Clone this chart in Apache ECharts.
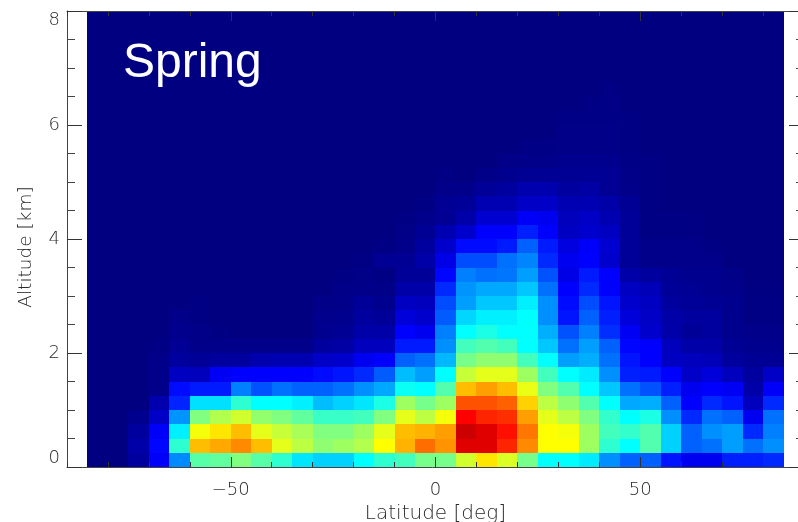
<!DOCTYPE html>
<html>
<head>
<meta charset="utf-8">
<style>html,body{margin:0;padding:0;background:#fff}#c{width:798px;height:522px}</style>
<script src="https://cdn.jsdelivr.net/npm/echarts@6/dist/echarts.min.js"></script>
</head>
<body>
<div id="c"></div>
<script>
// Latitude bin centres in degrees, -82.5 ... 82.5
const latBins = [-82.5,-77.5,-72.5,-67.5,-62.5,-57.5,-52.5,-47.5,-42.5,-37.5,-32.5,-27.5,-22.5,-17.5,-12.5,-7.5,-2.5,2.5,7.5,12.5,17.5,22.5,27.5,32.5,37.5,42.5,47.5,52.5,57.5,62.5,67.5,72.5,77.5,82.5];
// Altitude bin centres in km, 0.125 ... 7.875
const altBins = [0.125,0.375,0.625,0.875,1.125,1.375,1.625,1.875,2.125,2.375,2.625,2.875,3.125,3.375,3.625,3.875,4.125,4.375,4.625,4.875,5.125,5.375,5.625,5.875,6.125,6.375,6.625,6.875,7.125,7.375,7.625,7.875];
// One row per altitude bin (bottom to top), columns from -85 to 85 deg latitude
const r00 = [0,0,.03,.12,.26,.46,.47,.5,.46,.42,.35,.33,.33,.375,.42,.44,.49, .49,.58,.65,.59,.49,.375,.375,.355,.265,.22,.22,.145,.11,.11,.155,.155,.165];
const r01 = [0,0,.04,.13,.42,.69,.71,.74,.69,.6,.56,.515,.53,.55,.625,.7,.77, .73,.905,.905,.84,.74,.625,.625,.53,.42,.375,.455,.33,.22,.235,.28,.235,.265];
const r02 = [0,0,.03,.12,.36,.615,.65,.69,.6,.57,.54,.5,.5,.53,.6,.69,.7, .72,.925,.905,.86,.76,.625,.615,.53,.44,.425,.455,.33,.22,.265,.28,.165,.25];
const r03 = [0,0,.015,.07,.27,.5,.55,.58,.52,.5,.47,.43,.43,.44,.5,.6,.56, .615,.875,.84,.83,.72,.6,.56,.5,.425,.375,.4,.265,.165,.235,.22,.11,.235];
const r04 = [0,0,0,.045,.16,.345,.345,.42,.375,.375,.36,.31,.33,.35,.4,.53,.49, .53,.795,.795,.78,.67,.56,.515,.455,.375,.29,.295,.22,.125,.165,.145,.06,.165];
const r05 = [0,0,0,.01,.135,.15,.15,.25,.205,.235,.22,.22,.235,.265,.29,.385,.375, .455,.69,.72,.69,.605,.5,.455,.375,.32,.235,.205,.155,.11,.125,.115,.04,.12];
const r06 = [0,0,0,.01,.065,.06,.115,.125,.125,.125,.125,.135,.145,.165,.215,.31,.28, .375,.57,.6,.6,.53,.44,.375,.355,.265,.155,.15,.125,.07,.09,.06,.03,.07];
const r07 = [0,0,0,.01,.03,.025,.03,.03,.045,.05,.05,.07,.075,.11,.125,.22,.235, .305,.49,.515,.515,.44,.375,.28,.295,.235,.145,.125,.065,.06,.055,.03,.02,.02];
const r08 = [0,0,0,.005,.02,.01,.01,.01,.01,.01,.01,.03,.035,.06,.06,.15,.15, .265,.44,.455,.44,.375,.32,.235,.28,.22,.13,.125,.06,.04,.04,.02,.015,.015];
const r09 = [0,0,0,0,.012,.008,.003,0,0,0,0,.015,.02,.04,.04,.125,.11, .25,.375,.4,.375,.375,.295,.205,.25,.17,.115,.075,.04,.025,.03,.015,.01,.01];
const r10 = [0,0,0,0,.01,.005,0,0,0,0,0,.012,.015,.03,.025,.09,.075, .215,.335,.36,.36,.375,.265,.145,.22,.155,.09,.07,.04,.03,.03,.015,.005,.005];
const r11 = [0,0,0,0,0,.004,0,0,0,0,0,.008,.01,.025,.015,.065,.06, .2,.28,.32,.32,.36,.265,.135,.2,.145,.075,.065,.03,.025,.02,.015,.005,.005];
const r12 = [0,0,0,0,0,0,0,0,0,0,0,0,.008,.01,.008,.04,.04, .165,.27,.29,.29,.32,.235,.125,.165,.125,.065,.055,.025,.02,.015,.01,.003,.003];
const r13 = [0,0,0,0,0,0,0,0,0,0,0,0,.004,.008,.005,.025,.025, .13,.25,.235,.24,.28,.205,.1,.15,.125,.04,.03,.02,.015,.015,.008,0,0];
const r14 = [0,0,0,0,0,0,0,0,0,0,0,0,0,.005,.02,.02,.04, .1,.2,.2,.235,.255,.165,.11,.125,.075,.025,.01,.01,.01,.01,0,0,0];
const r15 = [0,0,0,0,0,0,0,0,0,0,0,0,0,0,.005,.01,.03, .075,.135,.135,.15,.22,.15,.095,.12,.08,.025,.01,.01,.01,.005,0,0,0];
const r16 = [0,0,0,0,0,0,0,0,0,0,0,0,0,0,0,.008,.02, .05,.075,.125,.125,.155,.125,.065,.075,.065,.025,.005,.005,.005,0,0,0,0];
const r17 = [0,0,0,0,0,0,0,0,0,0,0,0,0,0,0,.005,.012, .02,.04,.08,.08,.12,.11,.06,.07,.05,.025,.005,.005,.005,0,0,0,0];
const r18 = [0,0,0,0,0,0,0,0,0,0,0,0,0,0,0,0,.005, .02,.025,.05,.05,.07,.07,.05,.05,.04,.02,.005,0,0,0,0,0,0];
const r19 = [0,0,0,0,0,0,0,0,0,0,0,0,0,0,0,0,0, .01,.01,.025,.03,.045,.045,.03,.035,.02,.01,.005,0,0,0,0,0,0];
const r20 = [0,0,0,0,0,0,0,0,0,0,0,0,0,0,0,0,0, .005,.001,.008,.015,.02,.02,.02,.02,.02,.008,.005,0,0,0,0,0,0];
const r21 = [0,0,0,0,0,0,0,0,0,0,0,0,0,0,0,0,0, 0,0,0,.008,.01,.01,.014,.015,.015,.007,.005,0,0,0,0,0,0];
const r22 = [0,0,0,0,0,0,0,0,0,0,0,0,0,0,0,0,0, 0,0,0,0,.006,.006,.008,.008,.008,.005,0,0,0,0,0,0,0];
const r23 = [0,0,0,0,0,0,0,0,0,0,0,0,0,0,0,0,0, 0,0,0,0,0,0,.008,.008,.008,.005,0,0,0,0,0,0,0];
const r24 = [0,0,0,0,0,0,0,0,0,0,0,0,0,0,0,0,0, 0,0,0,0,0,0,.006,.006,.007,.004,0,0,0,0,0,0,0];
const r25 = [0,0,0,0,0,0,0,0,0,0,0,0,0,0,0,0,0, 0,0,0,0,0,0,0,.005,.006,0,0,0,0,0,0,0,0];
const r26 = [0,0,0,0,0,0,0,0,0,0,0,0,0,0,0,0,0, 0,0,0,0,0,0,0,0,.005,0,0,0,0,0,0,0,0];
const rows = [r00,r01,r02,r03,r04,r05,r06,r07,r08,r09,r10,r11,r12,r13,r14,r15,r16,r17,r18,r19,r20,r21,r22,r23,r24,r25,r26];
const xMajorTicks = [-50, 0, 50];
const panelLabel = 'Spring';
const xTitle = 'Latitude [deg]';
const yTitle = 'Altitude [km]';

const cells = [];
altBins.forEach((alt, a) => {
  const row = rows[a];
  latBins.forEach((lat, c) => cells.push([lat, alt, row ? row[c] : 0]));
});
const halfLat = 2.5, halfAlt = 0.125;

const rect = {left: 67, top: 11, width: 737, height: 456, outerBoundsMode: 'none'};
const line = {show: true, onZero: false, lineStyle: {color: '#444', width: 1}};
const noLine = {show: false, onZero: false};
const tick = (len) => ({show: true, inside: true, length: len, lineStyle: {color: '#333', width: 1}});
const minor = {show: true, splitNumber: 4, length: 8, lineStyle: {color: '#444', width: 1}};
const textFont = {fontFamily: '"DejaVu Sans Light","DejaVu Sans ExtraLight","DejaVu Sans"', fontWeight: 200, color: '#2a2a2a'};

const chart = echarts.init(document.getElementById('c'), null, {renderer: 'canvas'});
chart.setOption({
  animation: false,
  backgroundColor: '#fff',
  title: {text: panelLabel, left: 118, top: 35, textStyle: {color: '#fff', fontFamily: 'Liberation Sans', fontSize: 48, fontWeight: 'normal'}},
  grid: [Object.assign({}, rect), Object.assign({}, rect)],
  visualMap: {show: false, seriesIndex: 0, dimension: 2, min: 0, max: 1,
    inRange: {color: ['#000080','#0000ff','#0080ff','#00ffff','#80ff80','#ffff00','#ff8000','#ff0000','#800000']}},
  xAxis: [
    {gridIndex: 0, type: 'value', position: 'bottom', min: -90, max: 90, interval: 10, z: 5, splitLine: {show: false}, axisLine: line, axisTick: tick(5), axisLabel: {show: false}},
    {gridIndex: 0, type: 'value', position: 'top', min: -90, max: 90, interval: 10, z: 5, splitLine: {show: false}, axisLine: line, axisTick: tick(5), axisLabel: {show: false}},
    {gridIndex: 1, type: 'value', position: 'bottom', min: -90, max: 90, z: 5, splitLine: {show: false},
      axisLine: noLine, axisTick: Object.assign(tick(10), {customValues: xMajorTicks}),
      axisLabel: Object.assign({show: true, margin: 14, fontSize: 18, customValues: xMajorTicks, formatter: v => String(v).replace('-', '\u2212')}, textFont),
      name: xTitle, nameLocation: 'middle', nameGap: 35, nameTextStyle: Object.assign({fontSize: 20}, textFont)},
    {gridIndex: 1, type: 'value', position: 'top', min: -90, max: 90, z: 5, splitLine: {show: false},
      axisLine: noLine, axisTick: Object.assign(tick(10), {customValues: xMajorTicks}), axisLabel: {show: false}}
  ],
  yAxis: [
    {gridIndex: 0, type: 'value', position: 'left', min: 0, max: 8, interval: 2, z: 5, splitLine: {show: false}, axisLine: line,
      axisTick: tick(15), minorTick: minor,
      axisLabel: Object.assign({show: true, margin: 7, fontSize: 18, verticalAlignMinLabel: 'bottom', verticalAlignMaxLabel: 'top'}, textFont),
      name: yTitle, nameLocation: 'middle', nameGap: 31, nameTextStyle: Object.assign({fontSize: 18.5, padding: [0, 16, 0, 0]}, textFont)},
    {gridIndex: 0, type: 'value', position: 'right', min: 0, max: 8, interval: 2, z: 5, splitLine: {show: false}, axisLine: noLine,
      axisTick: tick(15), minorTick: minor, axisLabel: {show: false}},
    {gridIndex: 1, type: 'value', position: 'left', min: 0, max: 8, show: false}
  ],
  series: [{
    type: 'custom', xAxisIndex: 0, yAxisIndex: 0, data: cells,
    encode: {x: 0, y: 1}, silent: true,
    renderItem: (params, api) => {
      const a = api.coord([api.value(0) - halfLat, api.value(1) - halfAlt]);
      const b = api.coord([api.value(0) + halfLat, api.value(1) + halfAlt]);
      const x = Math.round(a[0]), y = Math.round(b[1]);
      return {type: 'rect', shape: {x, y, width: Math.round(b[0]) - x, height: Math.round(a[1]) - y},
        style: {fill: api.visual('color')}};
    }
  }]
});
</script>
</body>
</html>
